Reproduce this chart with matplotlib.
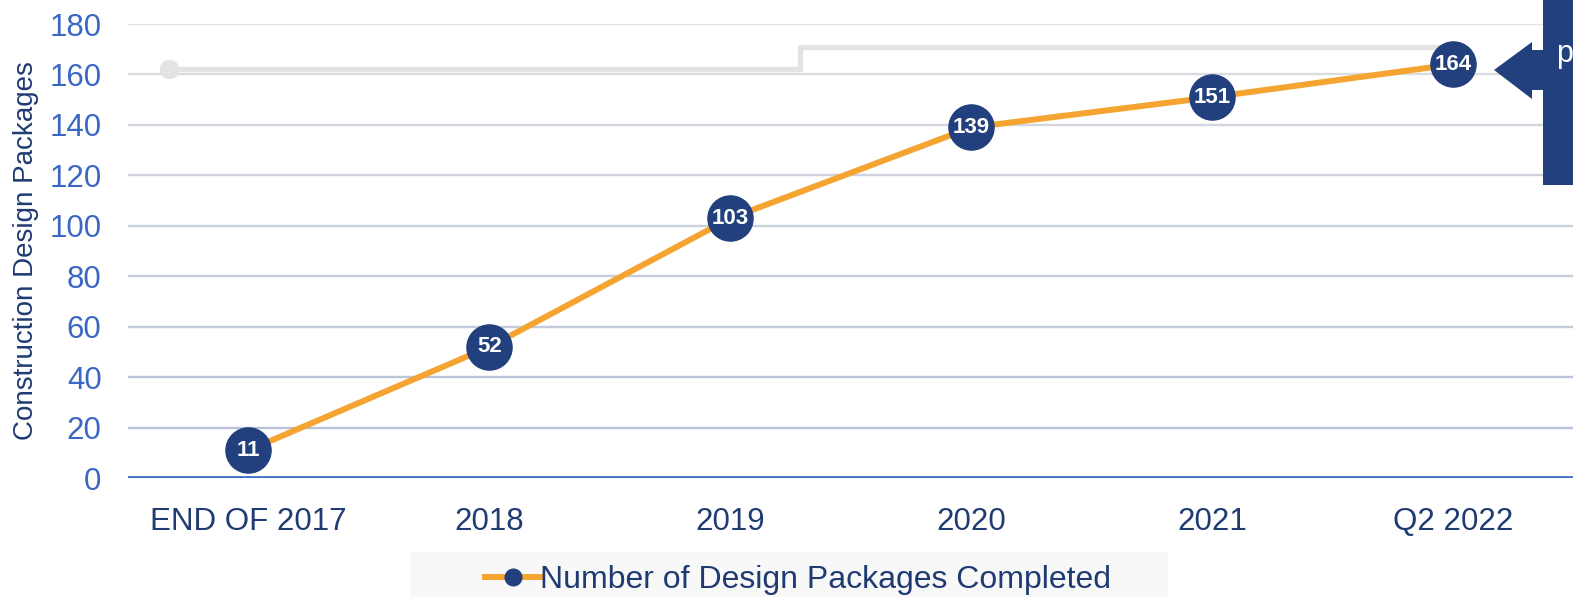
import matplotlib
matplotlib.use("Agg")
import matplotlib.pyplot as plt
from matplotlib.patches import Polygon
from matplotlib.lines import Line2D

categories = ["END OF 2017", "2018", "2019", "2020", "2021", "Q2 2022"]
completed = [11, 52, 103, 139, 151, 164]
target_x = [-0.33, 2.29, 2.29, 4.94]
target_y = [162, 162, 171, 171]
yticks = [0, 20, 40, 60, 80, 100, 120, 140, 160, 180]

NAVY = "#22407D"
ORANGE = "#F5A431"
TICKBLUE = "#3A67C4"
LABELNAVY = "#1F3B72"

plt.rcParams['font.family'] = ['Liberation Sans', 'DejaVu Sans']

W, H = 1573, 597
fig = plt.figure(figsize=(W / 100, H / 100), dpi=100)
ax = fig.add_axes([128 / W, 119 / H, 1 - 128 / W + 0.0005, (573 - 119) / H])

x = list(range(len(categories)))
ax.set_xlim(-0.5, 5.5)
ax.set_ylim(0, 180)

grid_colors = {20: "#B9C2D6", 40: "#BCC4D7", 60: "#C3CADA", 80: "#C6CCDB", 100: "#C9CFDC",
               120: "#CDD2DE", 140: "#D2D6E0", 160: "#DADCE2", 180: "#E2E3E6"}
for v in yticks[1:]:
    ax.axhline(v, color=grid_colors[v], lw=1.7, zorder=1)
ax.axhline(0, color="#3F6DC4", lw=3.4, zorder=2)

ax.plot(target_x, target_y, color="#E3E3E3", lw=3.8, zorder=2,
        solid_joinstyle="round", solid_capstyle="round")
ax.plot([target_x[0]], [target_y[0]], 'o', color="#E3E3E3", ms=13, zorder=2, clip_on=False)

ax.plot(x, completed, color=ORANGE, lw=4.3, zorder=3)
ax.plot(x, completed, 'o', color=NAVY, ms=32.5, zorder=4, clip_on=False)
for xi, v in zip(x, completed):
    ax.text(xi, v, str(v), color="white", fontsize=16, fontweight="bold",
            ha="center", va="center", zorder=5)

for s in ax.spines.values():
    s.set_visible(False)
ax.set_yticks(yticks)
ax.set_xticks(x)
ax.set_xticklabels(categories)
ax.tick_params(axis='y', length=0, pad=19, labelsize=22.5, labelcolor=TICKBLUE)
ax.tick_params(axis='x', length=0, pad=21, labelsize=22.5, labelcolor=LABELNAVY)
ax.set_ylabel("Construction Design Packages", fontsize=20, color=LABELNAVY)
ax.yaxis.set_label_coords(-(128 - 39) / (W - 128), 0.5)

# legend
handle = Line2D([], [], color=ORANGE, lw=4.3, marker='o', ms=12, mfc=NAVY, mec=NAVY)
fig.patches.append(plt.Rectangle((410 / W, 0), (1168 - 410) / W, 45 / H,
                                 transform=fig.transFigure, facecolor="#F8F8F8",
                                 edgecolor="none", zorder=0))
leg = fig.legend([handle], ["Number of Design Packages Completed"], loc="center",
                 bbox_to_anchor=(798 / W, (597 - 580) / H), frameon=False,
                 fontsize=23, handlelength=1.75, handletextpad=0.0, labelcolor=LABELNAVY,
                 borderpad=0)

# callout
def fx(px):
    return px / W

def fy(py):
    return 1 - py / H

pts = [(1494, 70), (1532, 42), (1532, 50), (1543, 50), (1543, 0), (1575, 0),
       (1575, 185), (1543, 185), (1543, 90), (1532, 90), (1532, 99)]
fig.patches.append(Polygon([(fx(a), fy(b)) for a, b in pts], closed=True,
                           transform=fig.transFigure, facecolor=NAVY,
                           edgecolor="none", zorder=10))
fig.text(fx(1556), fy(54), "p", color="white", fontsize=22, ha="left", va="center", zorder=11)

fig.savefig("out.png", dpi=100)
